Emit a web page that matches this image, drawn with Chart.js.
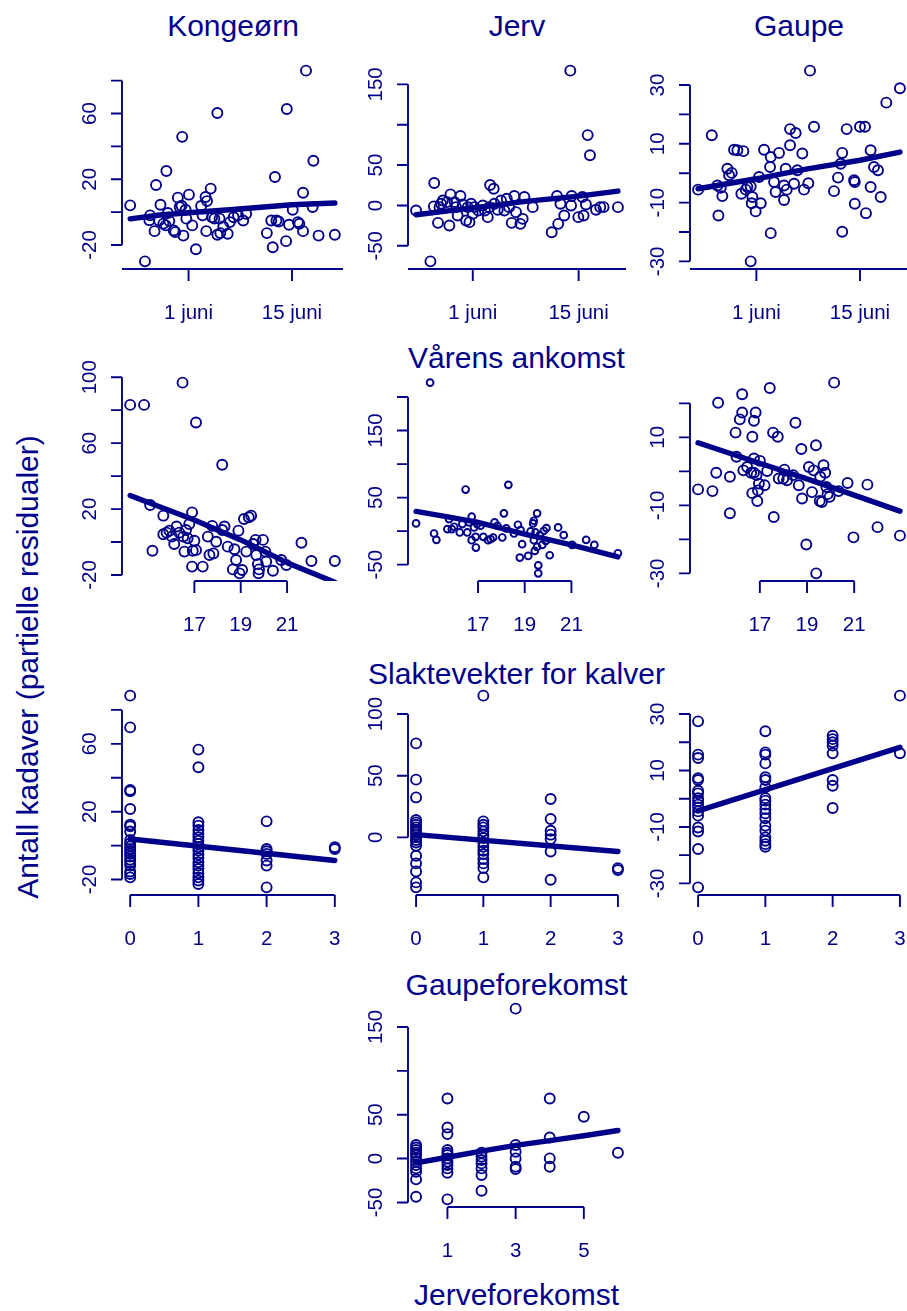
<!DOCTYPE html>
<html>
<head>
<meta charset="utf-8">
<script src="https://cdn.jsdelivr.net/npm/chart.js@4.4.0/dist/chart.umd.min.js"></script>
<style>
  html, body { margin: 0; padding: 0; background: #fff; }
  #page { position: relative; width: 907px; height: 1311px; overflow: hidden; background: #fff; }
  #page canvas { position: absolute; }
  .lbl { position: absolute; font-family: "Liberation Sans", Arial, sans-serif; font-size: 30px; line-height: 30px; color: #00008B; white-space: nowrap; }
</style>
</head>
<body>
<div id="page">
  <div class="lbl" style="left:233px; top:10.6px; transform:translateX(-50%)">Kongeørn</div>
  <div class="lbl" style="left:517px; top:10.6px; transform:translateX(-50%)">Jerv</div>
  <div class="lbl" style="left:799px; top:10.6px; transform:translateX(-50%)">Gaupe</div>
  <div class="lbl" style="left:516.5px; top:342.9px; transform:translateX(-50%)">Vårens ankomst</div>
  <div class="lbl" style="left:516.5px; top:658.6px; transform:translateX(-50%)">Slaktevekter for kalver</div>
  <div class="lbl" style="left:516.5px; top:969.6px; transform:translateX(-50%)">Gaupeforekomst</div>
  <div class="lbl" style="left:516.5px; top:1279.6px; transform:translateX(-50%)">Jerveforekomst</div>
  <div class="lbl" style="left:27.6px; top:666.5px; transform:translate(-50%,-50%) rotate(-90deg)">Antall kadaver (partielle residualer)</div>
</div>
<script>
// Rad 1: vårens ankomst (dag i juni), partielle residualer
const ankomstOrnX = [-6.9,-4.9,-4.2,-4.3,-3.6,-3.4,-2.8,-2.4,-2.0,-1.8,-1.6,-0.8,-0.45,0.14,0.05,0.3,0.6,0.7,1.05,1.5,2.0,2.7,3.3,3.5,3.4,4.0,4.2,4.9,4.9,5.2,5.7,6.3,6.6,7.1,7.7,8.4,8.8,11.6,12.2,12.4,12.7,12.9,13.2,14.3,14.2,14.6,15.1,15.8,16.0,16.5,16.5,16.9,17.8,17.9,18.6,20.8,-3.0,-2.1,-1.0,-0.2,2.9,4.5,5.3];
const ankomstOrnY = [4.1,-30,-2,-5,-11.6,16.5,4.5,-7,25,-0.6,-5.5,-12.2,8.8,45.8,3.9,-14.3,1.4,-4,10.6,-8.1,-22.6,3.7,9.2,6.7,-11.6,14.3,-3.1,60.3,-13.8,-4,-8.8,-13.2,-6.1,-3.1,-2,-5.1,-1,-12.8,-5.1,-21.4,21.4,-5.1,-5.7,62.7,-17.7,-7.7,1.4,-6.1,-7.1,11.8,-11.6,86.1,3.1,31.2,-14.3,-13.8,-5.1,-8.1,-11.2,3.1,-2,-4,-12.8];
const ankomstJervX = [-6.5,-4.6,-4.1,-4.15,-3.6,-3.4,-2.96,-2.4,-2.1,-1.95,-1.4,-1.0,-0.63,-0.32,0.12,0.34,0.56,0.78,1.22,1.75,2.32,2.98,3.29,3.77,3.2,3.86,4.3,4.74,5.18,5.5,6.15,6.5,6.72,7.3,7.6,7.83,8.93,11.44,12.14,12.3,12.6,13.1,13.9,14.08,14.0,14.96,15.66,15.97,16.2,16.5,17.3,17.86,18.3,20.2,-3.2,-1.2,1.0,2.6,5.8,15.5];
const ankomstJervY = [-6.2,-69.3,27.8,-1.2,-21.6,-2.1,6.2,4.1,-24.9,13.7,4.1,-12.4,11.6,1.2,-18.7,-2.1,-20.7,2.1,-2.1,-6.2,0,-14.5,25.3,20.7,-2.1,2.1,-5.4,6.2,-6.2,8.3,-21.6,11.6,-8.3,-22.8,-16.6,10.4,-2.1,-33.2,11.6,-22.8,2.1,-12.4,167,11.6,0,-14.5,-12.4,1.2,87.1,62.2,-5.4,-2.1,-2.1,-2.1,2.1,-2.1,-10.4,-6.2,-2.1,10.4];
const ankomstGaupeX = [-6.88,-5.03,-4.27,-4.13,-3.82,-3.6,-2.92,-2.69,-2.33,-2.02,-1.57,-0.76,-1.03,-0.44,-0.22,0.23,0.46,0.37,0.9,1.59,1.36,2.04,2.85,2.94,2.94,3.39,3.6,4.06,4.74,4.74,4.96,5.1,5.55,5.55,6.31,6.09,6.54,7.21,7.44,8.02,8.25,8.79,11.49,12.03,12.39,12.6,12.6,13.2,14.2,14.3,14.3,15.0,15.68,15.81,16.44,16.44,16.9,17.43,17.8,18.56,20.4,0.23];
const ankomstGaupeY = [-5.6,12.9,-4.2,-14.4,-5,-7.8,1.5,-0.7,0.1,8,7.8,7.5,-7,-5.6,-4.7,-4.5,-8.1,-10.2,-13,-10.2,-1.3,8,2.1,5.5,-20.4,-3,-6.4,6.9,-4.2,-9.1,1.5,-5.6,9.5,15,13.7,-3.6,1,6.7,-5.6,-3.4,34.9,15.8,-6.1,-1.5,3.2,6.9,-19.9,15,-2.4,-3,-10.4,15.8,15.8,-13.6,-4.7,7.8,2.1,1,-8.1,24,28.9,-30];

// Rad 2: slaktevekter for kalver (kg)
const slaktOrnX = [14.23,14.83,16.49,17.07,18.2,15.09,15.19,15.66,15.66,15.8,15.92,16.03,16.13,16.23,16.35,16.52,16.57,16.64,16.71,16.78,16.9,16.93,17,17.07,16.9,17.36,17.58,17.65,17.77,17.82,17.94,18.2,18.3,18.44,18.73,18.8,18.9,18.66,18.95,19.06,19.14,19.24,19.35,19.45,19.53,19.64,19.67,19.74,19.77,19.79,19.96,20.06,20.1,20.39,20.75,20.97,21.62,22.05,23.06];
const slaktOrnY = [83.2,83.2,96.7,72.5,46.9,22.5,-5.3,16,4.7,5.7,6.9,3.3,-1.2,9.4,5.7,3.3,-5.8,7.3,2.3,10.9,18,-5.3,0.8,-4.9,-14.9,-14.9,3.3,-7.9,9.8,-6.9,0.2,7.3,9.4,-2.8,-4.4,-10.9,6.9,-16.6,-19,-17,14,-5.8,15,16,-1.2,1.3,-7.9,-13.4,-19,-16.6,1.3,-5.8,-11.9,-17.4,-10.9,-13.9,-0.4,-11.5,-11.5];
const slaktJervX = [14.95,14.35,15.12,15.22,15.69,15.76,15.88,15.98,16.22,16.33,16.47,16.54,16.62,16.73,16.73,16.83,16.9,16.91,16.97,17.11,17.23,17.43,17.54,17.65,17.71,17.83,18.04,18.11,18.21,18.3,18.54,18.71,18.82,18.89,18.79,19.15,19.25,19.36,19.39,19.43,19.46,19.53,19.53,19.58,19.58,19.65,19.75,19.82,19.93,20.07,20.43,20.67,21.03,21.63,21.98,22.99,19.39,19.9];
const slaktJervY = [221.5,11.5,-3.5,-13,3,18,3,6.5,-2,10.5,62,-2,13,21.5,-13.5,5.5,-8.5,-24.5,10.5,8,-8.5,-13.5,-12,-9.5,13,8,-9.5,26.5,4,69,-3.5,9.5,1.5,-19.5,-39.5,-37,-0.5,11.5,-13.5,-29.5,-2,26.5,-23.5,-51,-63,-6,-20.5,0.5,4.5,-36,5.5,-6,-20.5,-13,-20.5,-33,15.5,-14.5];
const slaktGaupeX = [14.38,14.99,15.15,15.23,15.73,15.73,15.97,16.01,16.25,16.25,16.15,16.3,16.46,16.68,16.75,16.82,16.75,16.63,16.75,16.68,16.86,16.89,16.92,17,16.96,17.2,17.31,17.42,17.56,17.59,17.76,17.8,17.99,18.04,18.15,18.41,18.51,18.65,18.76,18.79,18.97,19.08,19.21,19.28,19.38,19.39,19.54,19.56,19.63,19.7,19.77,19.82,19.87,19.96,20.15,20.34,20.72,20.97,21.56,21.99,22.94];
const slaktGaupeY = [-5.3,-5.8,-0.4,20.2,-12.3,-1.6,11.4,4.3,22.7,17.3,15.3,0.3,1.3,10.2,14.9,17.3,3.8,-0.4,-0.4,-6.4,-1.1,-8.7,-5.6,3.1,-3.6,-4.1,0.1,24.5,11.4,-13.4,10.2,-2.1,-2.1,0.5,-2.6,-1.1,14.3,-4.1,6.6,-8,-21.5,1.3,-6.1,0.3,7.7,-30,-8.7,-1.6,-9,1.8,-0.4,-4.6,-6.7,-7.5,26.1,-5.8,-3.4,-19.4,-3.9,-16.4,-18.9];

// Rad 3: gaupeforekomst (0-3), residualer per nivå
const gaupeLevels = [0, 1, 2, 3];
const gaupeFkOrn = [
  [88.4,69.7,32.8,32,21.6,12.4,11.4,8.3,3.3,1.4,-0.4,-2,-3.5,-4.9,-6.5,-8.3,-9.8,-11.8,-15.3,-16.7,-18.7],
  [56.6,46.2,13.8,11.8,9.2,6.9,4.9,2.9,1,-1,-2.9,-5.3,-7.3,-9.8,-11.8,-13.8,-16.3,-18.7,-20.6,-22.6],
  [14.3,-2,-3.3,-4.9,-8.8,-11.8,-24.6],
  [-1,-2]
];
const gaupeFkJerv = [
  [76.2,46.8,32.4,14.1,12.2,10.3,8.1,5.9,4.1,2.2,0,-2.2,-4.1,-6.8,-14.9,-21.1,-27.6,-36.5,-40.5],
  [114.9,13,10.3,8.1,4.9,2.2,-0.5,-4.1,-7.6,-10.8,-13.5,-17.6,-21.1,-24.9,-32.4],
  [31.1,14.9,5.4,2.2,-1.4,-11.4,-34.3],
  [-24.9,-26.5]
];
const gaupeFkGaupe = [
  [27.4,15.6,14.4,7.3,6.6,2.8,1.9,0.2,-0.9,-2.1,-3.1,-4.5,-6,-10.2,-11.6,-17.8,-31.4],
  [23.9,16.4,15.6,12.5,7.6,6.6,4,0.2,-0.7,-2.1,-3.7,-5.2,-6.9,-9.6,-11.3,-13.7,-14.9,-16.1,-17],
  [22.3,21.1,20,18.8,16.1,6.6,4.6,-3.3],
  [36.5,16.1]
];

// Rad 4: jerveforekomst
const jerveLevels = [0.08, 1, 2, 3, 4, 5, 6];
const jerveFkJerv = [
  [15.4,12.7,9.7,6.6,4,0.2,-3.6,-7.4,-11.2,-15,-23.7,-43.5],
  [68.5,35.5,27.9,9.7,6.6,4,0.2,-3.6,-7.4,-11.2,-16.1,-46.5],
  [6.6,2.1,-1.7,-5.5,-11.2,-18.8,-36.6],
  [170.9,15.4,7.8,0.2,-9.3,-12],
  [68.5,24.1,0.2,-9.3],
  [47.6],
  [6.6]
];

// Tilpassede linjer (partielle effekter)
const lineAnkomstOrnX = [-6.9,-2.9,1,7,15,20.8];
const lineAnkomstOrnY = [-4.1,-1.8,-0.4,1.6,4.5,5.5];
const lineAnkomstJervX = [-6.5,1,8,15,20.2];
const lineAnkomstJervY = [-11.6,-3,5,11.5,17.8];
const lineAnkomstGaupeX = [-6.88,1,7.9,15,20.4];
const lineAnkomstGaupeY = [-5.3,-1.9,1.5,4.4,7.2];
const lineSlaktOrnX = [14.23,17,19,21,23.06];
const lineSlaktOrnY = [28.2,13.4,1.3,-12.5,-24.4];
const lineSlaktJervX = [14.35,15.83,17,19,21,22.99];
const lineSlaktJervY = [29.5,20.5,13,-4.5,-20.5,-38.5];
const lineSlaktGaupeX = [14.38,17,19,21,22.94];
const lineSlaktGaupeY = [8.4,2.4,-2.2,-7,-11.7];
const lineGaupeFkOrnX = [0,3];
const lineGaupeFkOrnY = [3.9,-8.8];
const lineGaupeFkJervX = [0,3];
const lineGaupeFkJervY = [2.2,-11.4];
const lineGaupeFkGaupeX = [0,3];
const lineGaupeFkGaupeY = [-4.3,18.2];
const lineJerveFkJervX = [0.08,1,2,3,4,5,6];
const lineJerveFkJervY = [-5,1.5,8.5,15,20.5,26,32];

// Aksemerker
const ankomstTicks = [1, 15];
const ankomstLabels = ['1 juni', '15 juni'];
const slaktTicks = [17, 19, 21];
const slaktLabels = ['17', '19', '21'];
const gaupeTicks = [0, 1, 2, 3];
const gaupeLabels = ['0', '1', '2', '3'];
const jerveTicks = [1, 3, 5];
const jerveLabels = ['1', '3', '5'];

const yTicksP1 = [-20,0,20,40,60,80];       const yLabelsP1 = ['-20','','20','','60',''];
const yTicksP2 = [-50,0,50,100,150];        const yLabelsP2 = ['-50','0','50','','150'];
const yTicksP3 = [-30,-20,-10,0,10,20,30];  const yLabelsP3 = ['-30','','-10','','10','','30'];
const yTicksP4 = [-20,0,20,40,60,80,100];   const yLabelsP4 = ['-20','','20','','60','','100'];
const yTicksP5 = [-50,0,50,100,150,200];    const yLabelsP5 = ['-50','','50','','150',''];
const yTicksP6 = [-30,-20,-10,0,10,20];     const yLabelsP6 = ['-30','','-10','','10',''];
const yTicksP7 = [-20,0,20,40,60,80];       const yLabelsP7 = ['-20','','20','','60',''];
const yTicksP8 = [0,50,100];                const yLabelsP8 = ['0','50','100'];
const yTicksP9 = [-30,-20,-10,0,10,20,30];  const yLabelsP9 = ['-30','','-10','','10','','30'];
const yTicksP10 = [-50,0,50,100,150];       const yLabelsP10 = ['-50','0','50','','150'];

const navy = '#00008B';
const tickFont = '20.5px "Liberation Sans", Arial, sans-serif';
const page = document.getElementById('page');

// plot-områder (venstre, topp, bredde, høyde)
const colLeft = [122, 408, 690];
const colWidth = [221, 218, 218];
const rowTop = [63, 375, 688, 1001];
const rowHeight = [206, 206, 207, 206];

function zip(xs, ys) { return xs.map((x, i) => ({ x: x, y: ys[i] })); }
function fromLevels(levels, groups) {
  const pts = [];
  groups.forEach((g, i) => g.forEach(v => pts.push({ x: levels[i], y: v })));
  return pts;
}
function padRange(vals) {
  const lo = Math.min(...vals), hi = Math.max(...vals), d = (hi - lo) * 0.04;
  return [lo - d, hi + d];
}

// R-aktige akser: linje bare mellom første og siste merke
function rAxes(p) {
  return {
    id: 'rAxes',
    afterDraw(chart) {
      const { ctx, chartArea: a, scales: { x, y } } = chart;
      ctx.save();
      ctx.strokeStyle = navy;
      ctx.fillStyle = navy;
      ctx.lineWidth = 1.9;
      ctx.font = tickFont;

      const yp = p.yTicks.map(v => y.getPixelForValue(v));
      ctx.beginPath();
      ctx.moveTo(a.left, yp[0]);
      ctx.lineTo(a.left, yp[yp.length - 1]);
      yp.forEach(py => { ctx.moveTo(a.left, py); ctx.lineTo(a.left - 11, py); });
      ctx.stroke();
      ctx.textAlign = 'center';
      ctx.textBaseline = 'alphabetic';
      p.yLabels.forEach((t, i) => {
        if (!t) return;
        ctx.save();
        ctx.translate(a.left - 26, yp[i]);
        ctx.rotate(-Math.PI / 2);
        ctx.fillText(t, 0, 0);
        ctx.restore();
      });

      const xp = p.xTicks.map(v => x.getPixelForValue(v));
      const x0 = p.xFull ? a.left : xp[0];
      const x1 = p.xFull ? a.right : xp[xp.length - 1];
      ctx.beginPath();
      ctx.moveTo(x0, a.bottom);
      ctx.lineTo(x1, a.bottom);
      xp.forEach(px => { ctx.moveTo(px, a.bottom); ctx.lineTo(px, a.bottom + 12); });
      ctx.stroke();
      p.xLabels.forEach((t, i) => ctx.fillText(t, xp[i], a.bottom + 50));
      ctx.restore();
    }
  };
}

function panel(p) {
  const pad = { left: 60, top: 15, right: 15, bottom: 62 };
  const left = colLeft[p.col], top = rowTop[p.row];
  const w = colWidth[p.col], h = rowHeight[p.row];
  const cv = document.createElement('canvas');
  cv.width = w + pad.left + pad.right;
  cv.height = h + pad.top + pad.bottom;
  cv.style.left = (left - pad.left) + 'px';
  cv.style.top = (top - pad.top) + 'px';
  page.appendChild(cv);

  const xr = padRange(p.points.map(d => d.x));
  const yr = padRange(p.points.map(d => d.y));

  new Chart(cv.getContext('2d'), {
    type: 'scatter',
    data: {
      datasets: [
        {
          type: 'line',
          data: p.line,
          borderColor: navy,
          borderWidth: 5.4,
          borderCapStyle: 'round',
          borderJoinStyle: 'round',
          pointRadius: 0,
          fill: false,
          tension: 0
        },
        {
          data: p.points,
          pointStyle: 'circle',
          pointRadius: p.r || 5.0,
          pointBorderWidth: 1.9,
          borderColor: navy,
          backgroundColor: 'rgba(0,0,0,0)'
        }
      ]
    },
    options: {
      responsive: false,
      devicePixelRatio: 1,
      animation: false,
      events: [],
      layout: { padding: pad },
      plugins: { legend: { display: false }, tooltip: { enabled: false } },
      scales: {
        x: { type: 'linear', min: xr[0], max: xr[1], display: false },
        y: { type: 'linear', min: yr[0], max: yr[1], display: false }
      }
    },
    plugins: [rAxes(p)]
  });
}

panel({ row: 0, col: 0, points: zip(ankomstOrnX, ankomstOrnY), line: zip(lineAnkomstOrnX, lineAnkomstOrnY),
  xTicks: ankomstTicks, xLabels: ankomstLabels, xFull: true, yTicks: yTicksP1, yLabels: yLabelsP1 });
panel({ row: 0, col: 1, points: zip(ankomstJervX, ankomstJervY), line: zip(lineAnkomstJervX, lineAnkomstJervY),
  xTicks: ankomstTicks, xLabels: ankomstLabels, xFull: true, yTicks: yTicksP2, yLabels: yLabelsP2 });
panel({ row: 0, col: 2, points: zip(ankomstGaupeX, ankomstGaupeY), line: zip(lineAnkomstGaupeX, lineAnkomstGaupeY),
  xTicks: ankomstTicks, xLabels: ankomstLabels, xFull: true, yTicks: yTicksP3, yLabels: yLabelsP3 });

panel({ row: 1, col: 0, points: zip(slaktOrnX, slaktOrnY), line: zip(lineSlaktOrnX, lineSlaktOrnY),
  xTicks: slaktTicks, xLabels: slaktLabels, yTicks: yTicksP4, yLabels: yLabelsP4 });
panel({ row: 1, col: 1, points: zip(slaktJervX, slaktJervY), line: zip(lineSlaktJervX, lineSlaktJervY),
  xTicks: slaktTicks, xLabels: slaktLabels, yTicks: yTicksP5, yLabels: yLabelsP5, r: 3.4 });
panel({ row: 1, col: 2, points: zip(slaktGaupeX, slaktGaupeY), line: zip(lineSlaktGaupeX, lineSlaktGaupeY),
  xTicks: slaktTicks, xLabels: slaktLabels, yTicks: yTicksP6, yLabels: yLabelsP6 });

panel({ row: 2, col: 0, points: fromLevels(gaupeLevels, gaupeFkOrn), line: zip(lineGaupeFkOrnX, lineGaupeFkOrnY),
  xTicks: gaupeTicks, xLabels: gaupeLabels, yTicks: yTicksP7, yLabels: yLabelsP7 });
panel({ row: 2, col: 1, points: fromLevels(gaupeLevels, gaupeFkJerv), line: zip(lineGaupeFkJervX, lineGaupeFkJervY),
  xTicks: gaupeTicks, xLabels: gaupeLabels, yTicks: yTicksP8, yLabels: yLabelsP8 });
panel({ row: 2, col: 2, points: fromLevels(gaupeLevels, gaupeFkGaupe), line: zip(lineGaupeFkGaupeX, lineGaupeFkGaupeY),
  xTicks: gaupeTicks, xLabels: gaupeLabels, yTicks: yTicksP9, yLabels: yLabelsP9 });

panel({ row: 3, col: 1, points: fromLevels(jerveLevels, jerveFkJerv), line: zip(lineJerveFkJervX, lineJerveFkJervY),
  xTicks: jerveTicks, xLabels: jerveLabels, yTicks: yTicksP10, yLabels: yLabelsP10 });
</script>
</body>
</html>
